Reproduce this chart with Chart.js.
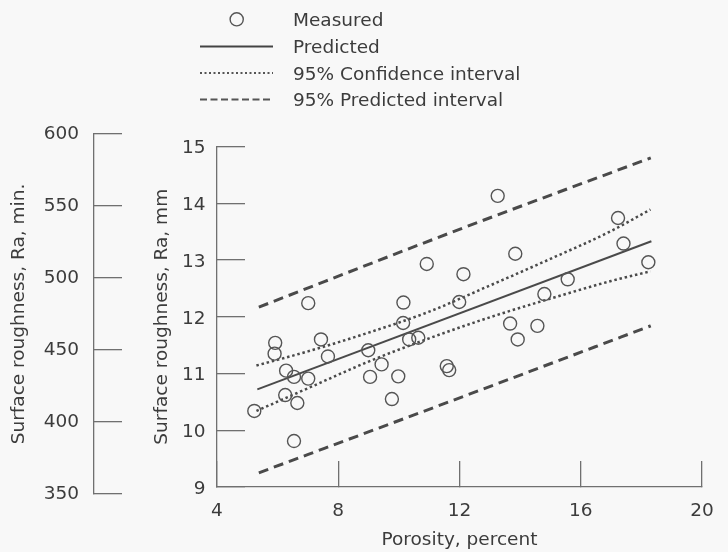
<!DOCTYPE html>
<html>
<head>
<meta charset="utf-8">
<script src="https://cdn.jsdelivr.net/npm/chart.js@4.4.1/dist/chart.umd.min.js"></script>
<style>
  html, body { margin: 0; padding: 0; background: #f8f8f8; }
  #wrap { position: relative; width: 728px; height: 552px; font-family: "DejaVu Sans", sans-serif; color: #3c3c3c; }
  #wrap canvas { position: absolute; left: 0; top: 0; }
  #inchAxis { pointer-events: none; }
  #keyMarks { position: absolute; left: 0; top: 0; }
  .key { position: absolute; left: 293px; font-size: 18.5px; line-height: 22px; white-space: nowrap; }
</style>
</head>
<body>
<div id="wrap">
  <canvas id="mainChart" width="728" height="552"></canvas>
  <canvas id="inchAxis" width="728" height="552"></canvas>
  <svg id="keyMarks" width="300" height="115">
    <circle cx="236.7" cy="19.3" r="6.6" fill="none" stroke="#555" stroke-width="1.4"/>
    <line x1="200" y1="46.5" x2="273" y2="46.5" stroke="#444" stroke-width="2"/>
    <line x1="200" y1="73" x2="273" y2="73" stroke="#555" stroke-width="2" stroke-dasharray="2 2.5"/>
    <line x1="200" y1="99.5" x2="273" y2="99.5" stroke="#555" stroke-width="2" stroke-dasharray="7 3.5"/>
  </svg>
  <div class="key" style="top:8.6px">Measured</div>
  <div class="key" style="top:35.9px">Predicted</div>
  <div class="key" style="top:62.6px">95% Confidence interval</div>
  <div class="key" style="top:88.6px">95% Predicted interval</div>
</div>
<script>
// measured samples: porosity (percent) vs surface roughness Ra (mm)
var porosity = [5.23, 5.92, 5.90, 6.28, 6.54, 6.25, 6.65, 6.54, 7.01, 7.01, 7.43, 7.66,
	8.99, 9.05, 9.43, 9.77, 9.98, 10.14, 10.15, 10.34, 10.64, 10.92, 11.58, 11.66,
	11.99, 12.13, 13.26, 13.84, 13.67, 13.92, 14.57, 14.80, 15.57, 17.23, 17.41, 18.23];
var roughness = [10.34, 11.54, 11.35, 11.05, 10.94, 10.62, 10.48, 9.81, 10.91, 12.24, 11.60, 11.30,
	11.41, 10.94, 11.16, 10.55, 10.95, 11.89, 12.25, 11.60, 11.63, 12.93, 11.13, 11.06,
	12.26, 12.75, 14.13, 13.11, 11.88, 11.60, 11.84, 12.40, 12.66, 13.74, 13.29, 12.96];

// regression line
var fitX = [5.33, 18.33];
var fitY = [10.72, 13.33];

// 95% confidence band
var confX = [5.3, 7, 9, 11, 13, 15, 17, 18.3];
var confUpper = [11.14, 11.39, 11.72, 12.09, 12.55, 13.02, 13.51, 13.89];
var confLower = [10.34, 10.74, 11.21, 11.62, 11.99, 12.32, 12.63, 12.80];

// 95% prediction band
var predX = [5.38, 11.8, 18.31];
var predUpper = [12.17, 13.50, 14.80];
var predLower = [9.25, 10.53, 11.84];

var xTicks = [4, 8, 12, 16, 20];
var mmTicks = [9, 10, 11, 12, 13, 14, 15];
var uinTicks = [350, 400, 450, 500, 550, 600];

function pairs(xs, ys) {
	return xs.map(function (x, i) { return { x: x, y: ys[i] }; });
}
function fixedTicks(list) {
	return function (scale) {
		scale.ticks = list.map(function (v) { return { value: v }; });
	};
}

Chart.defaults.font.family = '"DejaVu Sans", sans-serif';
Chart.defaults.font.size = 18.5;
Chart.defaults.color = '#3c3c3c';

var axisColor = '#707070';
var lineColor = '#4a4a4a';

function bandLine(xs, ys, dash, width) {
	return {
		type: 'line',
		data: pairs(xs, ys),
		borderColor: lineColor,
		borderWidth: width,
		borderDash: dash,
		borderCapStyle: 'butt',
		pointRadius: 0,
		fill: false,
		cubicInterpolationMode: 'monotone'
	};
}

new Chart(document.getElementById('mainChart'), {
	type: 'scatter',
	data: {
		datasets: [
			{
				label: 'Measured',
				data: pairs(porosity, roughness),
				pointStyle: 'circle',
				pointRadius: 6.5,
				borderColor: '#555',
				borderWidth: 1.4,
				backgroundColor: 'rgba(0,0,0,0)'
			},
			{
				type: 'line',
				label: 'Predicted',
				data: pairs(fitX, fitY),
				borderColor: lineColor,
				borderWidth: 2,
				pointRadius: 0,
				fill: false
			},
			bandLine(confX, confUpper, [2.5, 2.8], 2.5),
			bandLine(confX, confLower, [2.5, 2.8], 2.5),
			bandLine(predX, predUpper, [10, 6], 3),
			bandLine(predX, predLower, [10, 6], 3)
		]
	},
	options: {
		responsive: false,
		devicePixelRatio: 1,
		animation: false,
		layout: { padding: { left: 150, top: 146.5, right: 26, bottom: 0 } },
		plugins: { legend: { display: false }, tooltip: { enabled: false } },
		scales: {
			x: {
				type: 'linear',
				min: 4,
				max: 20,
				afterBuildTicks: fixedTicks(xTicks),
				afterFit: function (s) {
					// labels sit below inward ticks, so the label padding must not widen the margins
					s.height = 65;
					s.paddingLeft = 0;
					s.paddingRight = 0;
				},
				border: { color: axisColor, width: 1.3 },
				grid: { drawOnChartArea: false, tickLength: -26, color: axisColor, lineWidth: 1.3 },
				ticks: { padding: 39, maxRotation: 0 },
				title: { display: true, text: 'Porosity, percent', padding: { top: 0, bottom: 1 } }
			},
			y: {
				type: 'linear',
				min: 9,
				max: 15,
				afterBuildTicks: fixedTicks(mmTicks),
				afterFit: function (s) {
					s.width = 67;
					s.paddingTop = 0;
					s.paddingBottom = 0;
				},
				border: { color: axisColor, width: 1.3 },
				grid: { drawOnChartArea: false, tickLength: -28, color: axisColor, lineWidth: 1.3 },
				ticks: { padding: 39.5, labelOffset: 2 },
				title: { display: true, text: 'Surface roughness, Ra, mm', padding: { top: 1.5, bottom: 0 } }
			}
		}
	}
});

// second scale in micro-inches, drawn as its own axis at the far left
new Chart(document.getElementById('inchAxis'), {
	type: 'scatter',
	data: { datasets: [] },
	options: {
		responsive: false,
		devicePixelRatio: 1,
		animation: false,
		events: [],
		layout: { padding: { left: 0, top: 134, right: 598, bottom: 58 } },
		plugins: { legend: { display: false }, tooltip: { enabled: false } },
		scales: {
			x: { display: false, min: 0, max: 1 },
			y: {
				type: 'linear',
				min: 350,
				max: 600,
				afterBuildTicks: fixedTicks(uinTicks),
				afterFit: function (s) {
					s.width = 94;
					s.paddingTop = 0;
					s.paddingBottom = 0;
				},
				border: { color: axisColor, width: 1.3 },
				grid: { drawOnChartArea: false, tickLength: -28, color: axisColor, lineWidth: 1.3 },
				ticks: { padding: 43 },
				title: { display: true, text: 'Surface roughness, Ra, min.', padding: { top: 8.5, bottom: 0 } }
			}
		}
	}
});
</script>
</body>
</html>
